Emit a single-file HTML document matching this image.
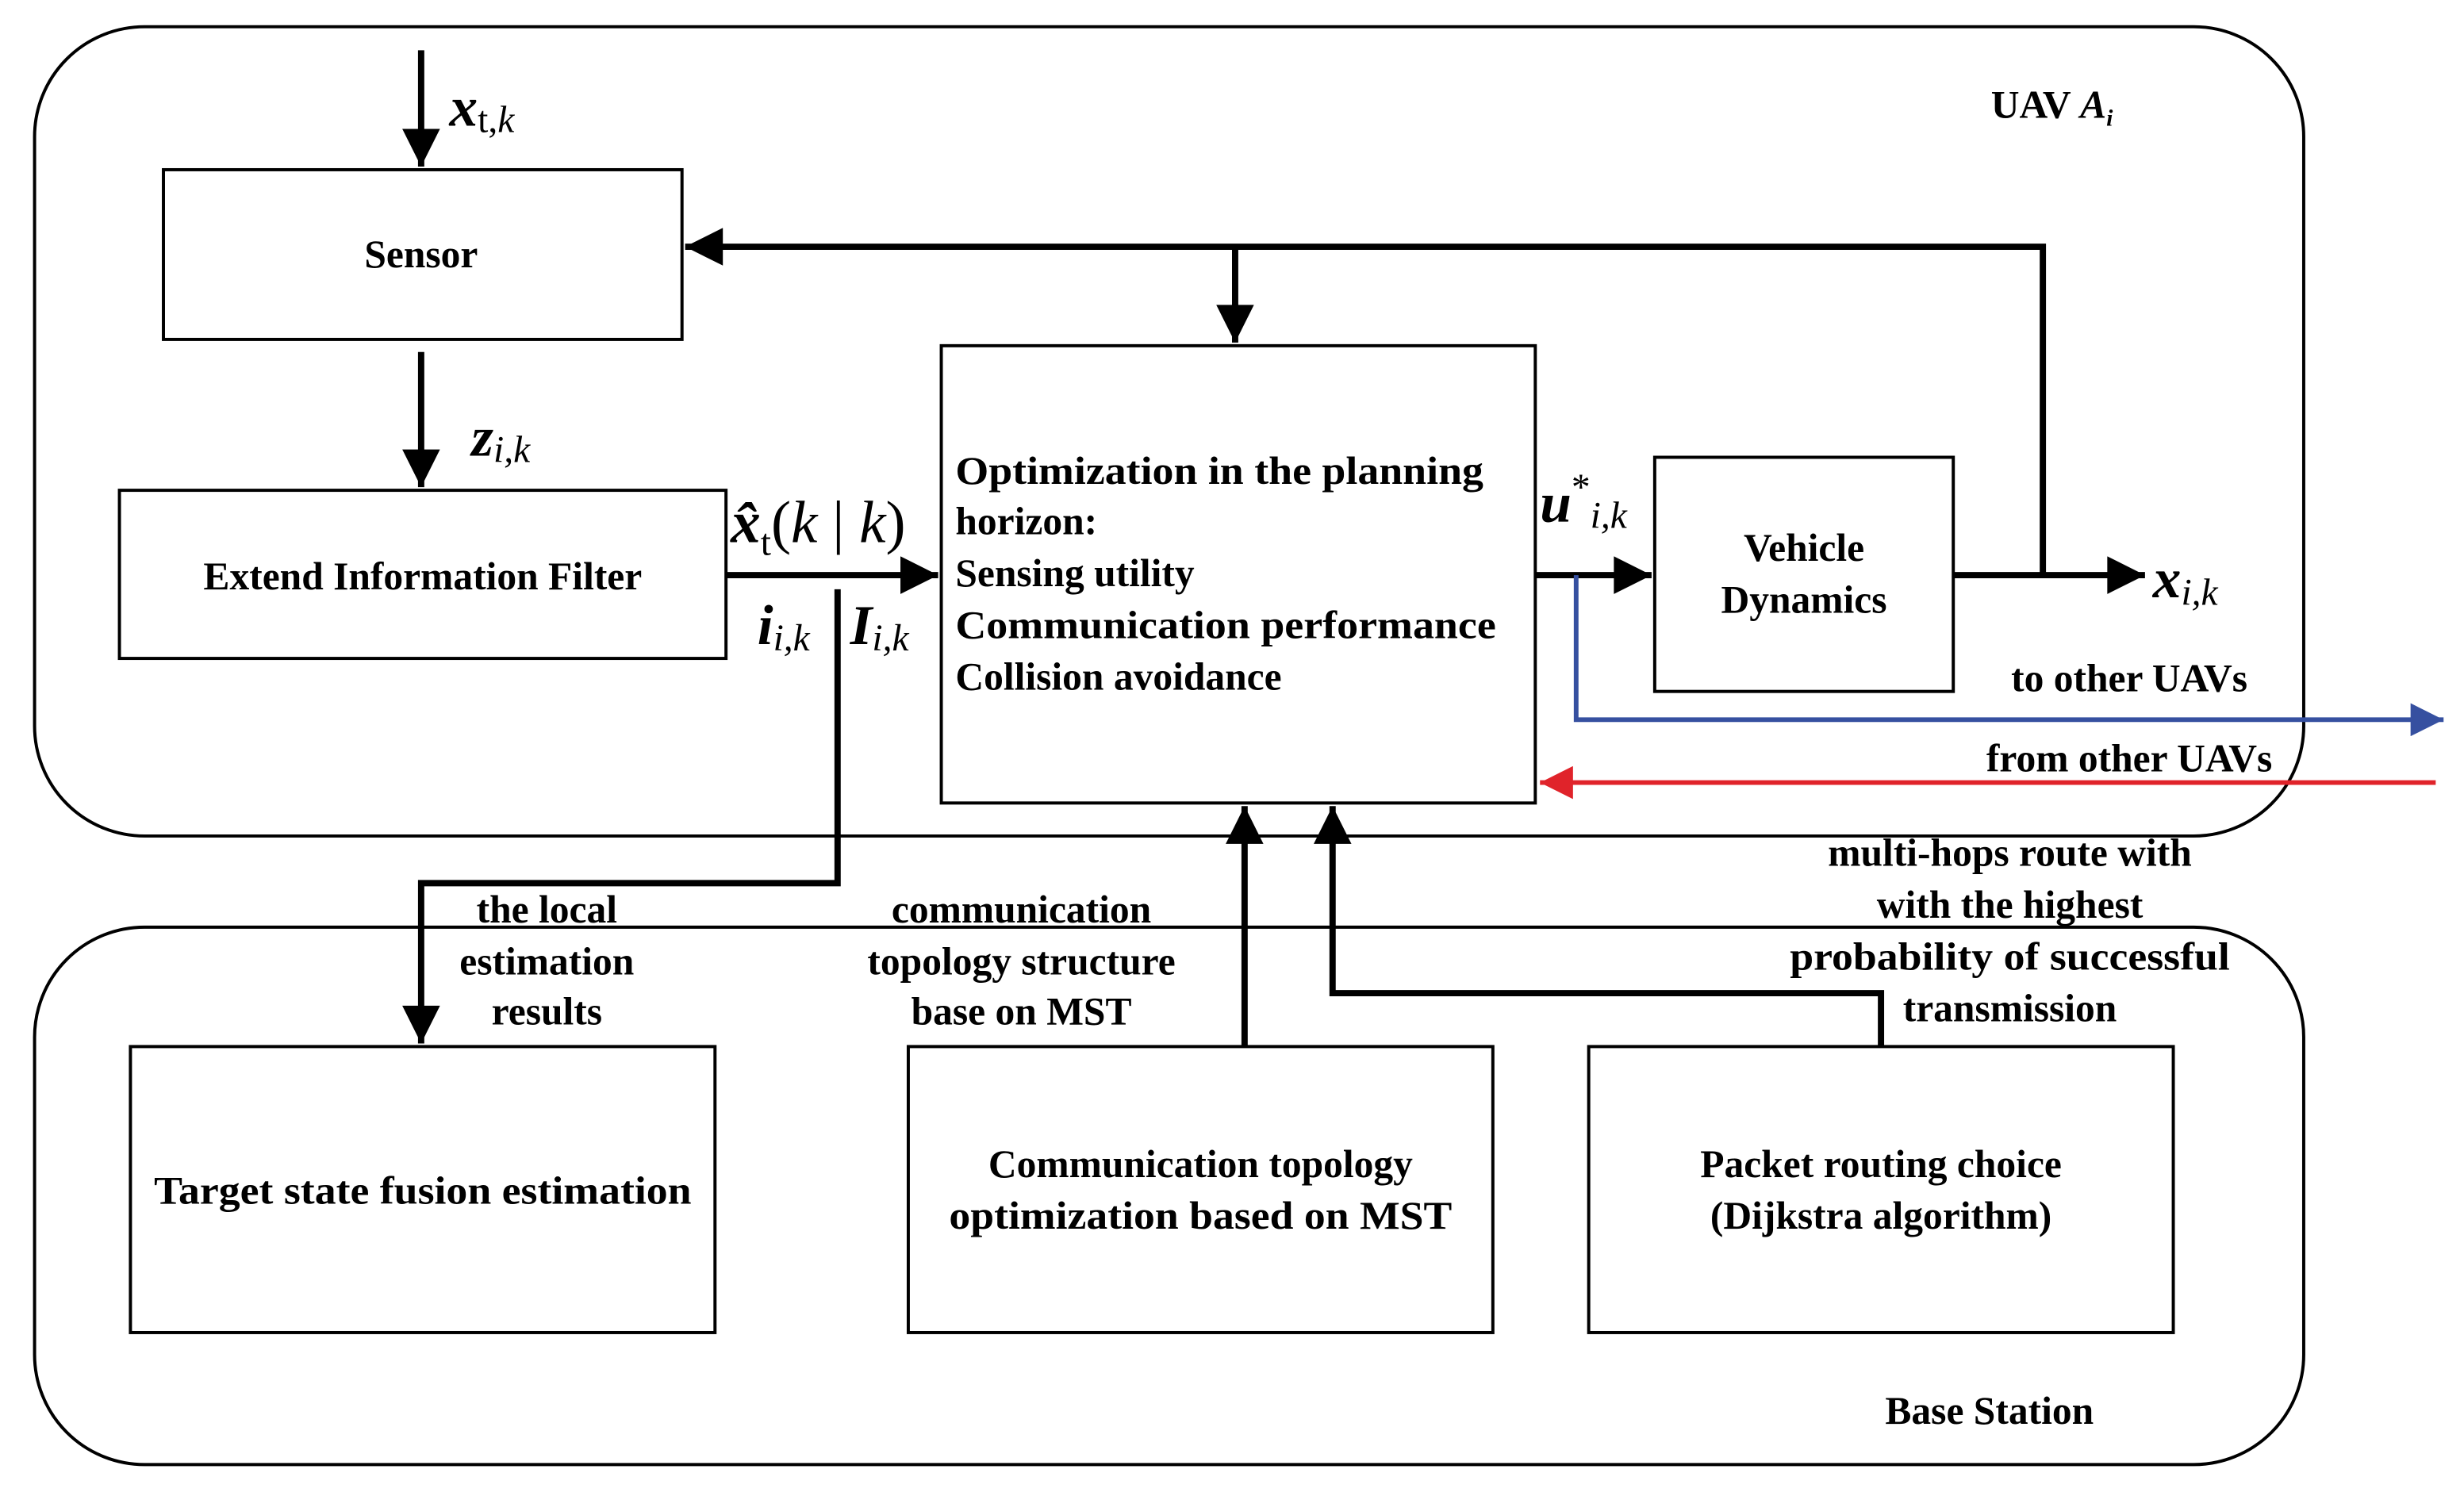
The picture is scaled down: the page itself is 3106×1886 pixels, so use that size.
<!DOCTYPE html>
<html><head><meta charset="utf-8"><style>
html,body{margin:0;padding:0;background:#fff;}
svg{display:block}
text{font-family:"Liberation Serif",serif;font-weight:bold;fill:#000;}
</style></head><body>
<svg width="3106" height="1886" viewBox="0 0 1568 952" preserveAspectRatio="none" xmlns="http://www.w3.org/2000/svg">
<defs>
<marker id="a" viewBox="0 0 10 10" refX="10" refY="5" markerWidth="9" markerHeight="6" markerUnits="strokeWidth" orient="auto"><path d="M0,0L10,5L0,10z" fill="#000"/></marker>
<marker id="b" viewBox="0 0 10 10" refX="10" refY="5" markerWidth="10" markerHeight="7" markerUnits="strokeWidth" orient="auto"><path d="M0,0L10,5L0,10z" fill="#3650a0"/></marker>
<marker id="r" viewBox="0 0 10 10" refX="10" refY="5" markerWidth="10" markerHeight="7" markerUnits="strokeWidth" orient="auto"><path d="M0,0L10,5L0,10z" fill="#e0232a"/></marker>
</defs>
<g fill="none" stroke="#000" stroke-width="2">
<rect x="22" y="17" width="1444" height="515" rx="70"/>
<rect x="22" y="590" width="1444" height="342" rx="70"/>
<rect x="104" y="108" width="330" height="108"/>
<rect x="76" y="312" width="386" height="107"/>
<rect x="599" y="220" width="378" height="291"/>
<rect x="1053" y="291" width="190" height="149"/>
<rect x="83" y="666" width="372" height="182"/>
<rect x="578" y="666" width="372" height="182"/>
<rect x="1011" y="666" width="372" height="182"/>
</g>
<g fill="none" stroke="#000" stroke-width="4">
<path d="M268,32V106" marker-end="url(#a)"/>
<path d="M268,224V310" marker-end="url(#a)"/>
<path d="M1243,366H1365" marker-end="url(#a)"/>
<path d="M1300,366V157H436" marker-end="url(#a)"/>
<path d="M786,157V218" marker-end="url(#a)"/>
<path d="M977,366H1051" marker-end="url(#a)"/>
<path d="M462,366H597" marker-end="url(#a)"/>
<path d="M533,375V562H268V664" marker-end="url(#a)"/>
<path d="M792,666V513" marker-end="url(#a)"/>
<path d="M1197,666V632H848V513" marker-end="url(#a)"/>
</g>
<path d="M1003,366V458H1555" fill="none" stroke="#3650a0" stroke-width="3" marker-end="url(#b)"/>
<path d="M1550,498H980" fill="none" stroke="#e0232a" stroke-width="3" marker-end="url(#r)"/>
<g font-size="25">
<text x="268" y="170" text-anchor="middle">Sensor</text>
<text x="269" y="375" text-anchor="middle">Extend Information Filter</text>
<text x="608" y="308" textLength="336" lengthAdjust="spacingAndGlyphs">Optimization in the planning</text>
<text x="608" y="340">horizon:</text>
<text x="608" y="373">Sensing utility</text>
<text x="608" y="406" textLength="344" lengthAdjust="spacingAndGlyphs">Communication performance</text>
<text x="608" y="439">Collision avoidance</text>
<text x="1148" y="357" text-anchor="middle">Vehicle</text>
<text x="1148" y="390" text-anchor="middle">Dynamics</text>
<text x="269" y="766" text-anchor="middle" textLength="342" lengthAdjust="spacingAndGlyphs">Target state fusion estimation</text>
<text x="764" y="749" text-anchor="middle">Communication topology</text>
<text x="764" y="782" text-anchor="middle" textLength="320" lengthAdjust="spacingAndGlyphs">optimization based on MST</text>
<text x="1197" y="749" text-anchor="middle">Packet routing choice</text>
<text x="1197" y="782" text-anchor="middle">(Dijkstra algorithm)</text>
<text x="1355" y="440" text-anchor="middle">to other UAVs</text>
<text x="1355" y="491" text-anchor="middle">from other UAVs</text>
<text x="348" y="587" text-anchor="middle">the local</text>
<text x="348" y="620" text-anchor="middle">estimation</text>
<text x="348" y="652" text-anchor="middle">results</text>
<text x="650" y="587" text-anchor="middle">communication</text>
<text x="650" y="620" text-anchor="middle">topology structure</text>
<text x="650" y="652" text-anchor="middle">base on MST</text>
<text x="1279" y="551" text-anchor="middle">multi-hops route with</text>
<text x="1279" y="584" text-anchor="middle">with the highest</text>
<text x="1279" y="617" text-anchor="middle" textLength="280" lengthAdjust="spacingAndGlyphs">probability of successful</text>
<text x="1279" y="650" text-anchor="middle">transmission</text>
<text x="1266" y="906" text-anchor="middle">Base Station</text>
<text x="1267" y="75">UAV <tspan font-style="italic">A</tspan><tspan font-style="italic" font-size="15" dy="5">i</tspan></text>
</g>
<g font-style="italic">
<text x="286" y="80" font-size="36">x<tspan font-style="normal" font-weight="normal" font-size="24" dy="4">t,</tspan><tspan font-weight="normal" font-size="24">k</tspan></text>
<text x="300" y="290" font-size="36">z<tspan font-weight="normal" font-size="24" dy="4">i,k</tspan></text>
<text x="465" y="345" font-size="38">x&#770;<tspan font-style="normal" font-weight="normal" font-size="24" dy="8">t</tspan><tspan font-weight="normal" dy="-8" font-style="normal">(</tspan><tspan font-weight="normal">k</tspan><tspan font-weight="normal" font-style="normal"> | </tspan><tspan font-weight="normal">k</tspan><tspan font-weight="normal" font-style="normal">)</tspan></text>
<text x="482" y="410" font-size="36">i<tspan font-weight="normal" font-size="24" dy="4">i,k</tspan></text>
<text x="541" y="410" font-size="36">I<tspan font-weight="normal" font-size="24" dy="4">i,k</tspan></text>
<text x="980" y="332" font-size="36">u<tspan font-style="normal" font-weight="normal" font-size="24" dy="-14">*</tspan><tspan font-weight="normal" font-size="24" dy="18">i,k</tspan></text>
<text x="1370" y="380" font-size="36">x<tspan font-weight="normal" font-size="24" dy="5">i,k</tspan></text>
</g>
</svg>
</body></html>
